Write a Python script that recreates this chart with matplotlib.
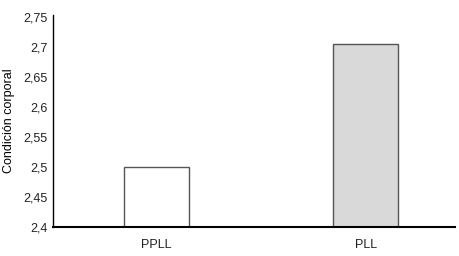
import matplotlib
matplotlib.use("Agg")
import matplotlib.pyplot as plt
from matplotlib.ticker import FuncFormatter

# datos
categorias = ["PPLL", "PLL"]
valores = [2.50, 2.705]
colores = ["white", "#d9d9d9"]
ticks_y = [2.4, 2.45, 2.5, 2.55, 2.6, 2.65, 2.7, 2.75]

plt.rcParams["font.family"] = ["Liberation Sans", "DejaVu Sans"]

fig = plt.figure(figsize=(4.59, 2.56), dpi=100)
ax = fig.add_axes([0.1155, 0.1133, 0.8755, 0.8277])

x = range(len(categorias))
ax.bar(x, valores, width=0.31, bottom=0, color=colores,
       edgecolor="#555555", linewidth=1.0, zorder=2)

ax.set_ylim(2.4, 2.753)
ax.set_xlim(-0.494, 1.425)
ax.set_yticks(ticks_y)
ax.yaxis.set_major_formatter(FuncFormatter(lambda v, p: f"{v:g}".replace(".", ",")))
ax.set_xticks(list(x))
ax.set_xticklabels(categorias)
ax.tick_params(axis="both", length=0, labelsize=9, colors="#222222")
ax.tick_params(axis="x", pad=9)
ax.tick_params(axis="y", pad=4)

for s in ["top", "right"]:
    ax.spines[s].set_visible(False)
ax.spines["left"].set_linewidth(1.0)
ax.spines["bottom"].set_linewidth(1.5)

ax.set_ylabel("Condición corporal", fontsize=9, labelpad=6)

fig.savefig("out.png", dpi=100)
